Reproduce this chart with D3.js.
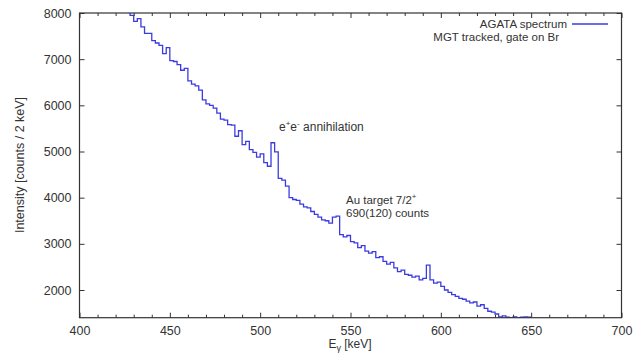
<!DOCTYPE html>
<html>
<head>
<meta charset="utf-8">
<script src="https://cdn.jsdelivr.net/npm/d3@7"></script>
<style>
  body { margin: 0; background: #fff; }
  svg { display: block; font-family: "Liberation Sans", Arial, sans-serif; }
</style>
</head>
<body>
<svg id="chart" width="633" height="358"></svg>
<script>
// bin start energies (keV), 2 keV wide
const binStart = d3.range(426, 650, 2);
// counts per bin
const counts = [
  8150, 7950, 7820, 7880, 7700, 7560, 7560, 7400, 7350, 7300,
  7120, 7250, 6970, 6950, 6880, 6760, 6800, 6530, 6460, 6420,
  6330, 6120, 6030, 6000, 5940, 5830, 5700, 5680, 5580, 5570,
  5330, 5450, 5150, 5220, 5040, 4980, 4880, 4950, 4760, 4680,
  5190, 4990, 4420, 4380, 4250, 4000, 3960, 3940, 3860, 3800,
  3780, 3700, 3640, 3580, 3520, 3500, 3450, 3580, 3600, 3200,
  3150, 3180, 3050, 3020, 2920, 2960, 2840, 2800, 2830, 2700,
  2720, 2620, 2560, 2600, 2480, 2400, 2430, 2340, 2320, 2280,
  2300, 2220, 2250, 2540, 2220, 2150, 2170, 2080, 2000, 1950,
  1900, 1860, 1820, 1800, 1760, 1720, 1740, 1650, 1680, 1600,
  1540, 1520, 1480, 1420, 1440, 1410, 1400, 1420, 1400, 1410,
  1420, 1410
];
const xTicks = [400, 450, 500, 550, 600, 650, 700];
const yTicks = [2000, 3000, 4000, 5000, 6000, 7000, 8000];

const mLeft = 79.5, mRight = 621.5, mTop = 13, mBottom = 317.7;
const axisColor = '#333';
const lineColor = '#3b3be0';

const svg = d3.select('#chart');

const x = d3.scaleLinear().domain([400, 700]).range([mLeft, mRight]);
const y = d3.scaleLinear().domain([1400, 8000]).range([mBottom, mTop]);

svg.append('defs').append('clipPath').attr('id', 'clip')
  .append('rect')
  .attr('x', mLeft).attr('y', mTop)
  .attr('width', mRight - mLeft).attr('height', mBottom - mTop);

// histogram as a step line
const pts = binStart.map((e, i) => [e, counts[i]]);
pts.push([650, counts[counts.length - 1]]);
const line = d3.line()
  .x(d => x(d[0]))
  .y(d => y(d[1]))
  .curve(d3.curveStepAfter);

svg.append('path')
  .datum(pts)
  .attr('clip-path', 'url(#clip)')
  .attr('d', line)
  .attr('fill', 'none')
  .attr('stroke', lineColor)
  .attr('stroke-width', 1.3);

// axes, ticks inward
const minorX = d3.range(400, 701, 10).filter(v => !xTicks.includes(v));

function styleAxis(g) {
  g.select('.domain').remove();
  g.selectAll('line').attr('stroke', axisColor).attr('stroke-width', 1);
  g.selectAll('text').attr('fill', axisColor).style('font-size', '12.5px');
}

svg.append('g')
  .attr('transform', `translate(0,${mBottom})`)
  .call(d3.axisBottom(x).tickValues(xTicks).tickSize(-5).tickPadding(8))
  .call(styleAxis);
svg.append('g')
  .attr('transform', `translate(0,${mBottom})`)
  .call(d3.axisBottom(x).tickValues(minorX).tickSize(-3).tickFormat(''))
  .call(styleAxis);
svg.append('g')
  .attr('transform', `translate(0,${mTop})`)
  .call(d3.axisTop(x).tickValues(xTicks).tickSize(-5).tickFormat(''))
  .call(styleAxis);
svg.append('g')
  .attr('transform', `translate(0,${mTop})`)
  .call(d3.axisTop(x).tickValues(minorX).tickSize(-3).tickFormat(''))
  .call(styleAxis);
svg.append('g')
  .attr('transform', `translate(${mLeft},0)`)
  .call(d3.axisLeft(y).tickValues(yTicks).tickSize(-5).tickPadding(8).tickFormat(d3.format('d')))
  .call(styleAxis);
svg.append('g')
  .attr('transform', `translate(${mRight},0)`)
  .call(d3.axisRight(y).tickValues(yTicks).tickSize(-5).tickFormat(''))
  .call(styleAxis);

// frame
svg.append('rect')
  .attr('x', mLeft).attr('y', mTop)
  .attr('width', mRight - mLeft).attr('height', mBottom - mTop)
  .attr('fill', 'none')
  .attr('stroke', axisColor)
  .attr('stroke-width', 1.2);

// axis titles
const xt = svg.append('text')
  .attr('x', 350).attr('y', 348)
  .attr('text-anchor', 'middle')
  .attr('fill', axisColor)
  .style('font-size', '12px');
xt.append('tspan').text('E');
xt.append('tspan').attr('dy', 3).style('font-size', '9px').text('γ');
xt.append('tspan').attr('dy', -3).text(' [keV]');

svg.append('text')
  .attr('transform', 'translate(24,165) rotate(-90)')
  .attr('text-anchor', 'middle')
  .attr('fill', axisColor)
  .style('font-size', '12.5px')
  .text('Intensity [counts / 2 keV]');

// annotations
const ann = svg.append('text')
  .attr('x', 279).attr('y', 131)
  .attr('fill', axisColor)
  .style('font-size', '12px');
ann.append('tspan').text('e');
ann.append('tspan').attr('dy', -5).style('font-size', '8px').text('+');
ann.append('tspan').attr('dy', 5).text('e');
ann.append('tspan').attr('dy', -5).style('font-size', '8px').text('-');
ann.append('tspan').attr('dy', 5).text(' annihilation');

const au = svg.append('text')
  .attr('x', 346).attr('y', 203.5)
  .attr('fill', axisColor)
  .style('font-size', '11.5px');
au.append('tspan').text('Au target 7/2');
au.append('tspan').attr('dy', -5).style('font-size', '8px').text('+');

svg.append('text')
  .attr('x', 346).attr('y', 216.5)
  .attr('fill', axisColor)
  .style('font-size', '11.5px')
  .text('690(120) counts');

// legend
svg.append('text')
  .attr('x', 567).attr('y', 27.5)
  .attr('text-anchor', 'end')
  .attr('fill', axisColor)
  .style('font-size', '11.5px')
  .text('AGATA spectrum');
svg.append('line')
  .attr('x1', 572).attr('x2', 608)
  .attr('y1', 24).attr('y2', 24)
  .attr('stroke', lineColor)
  .attr('stroke-width', 1.3);
svg.append('text')
  .attr('x', 559).attr('y', 40.5)
  .attr('text-anchor', 'end')
  .attr('fill', axisColor)
  .style('font-size', '11.5px')
  .text('MGT tracked, gate on Br');
</script>
</body>
</html>
